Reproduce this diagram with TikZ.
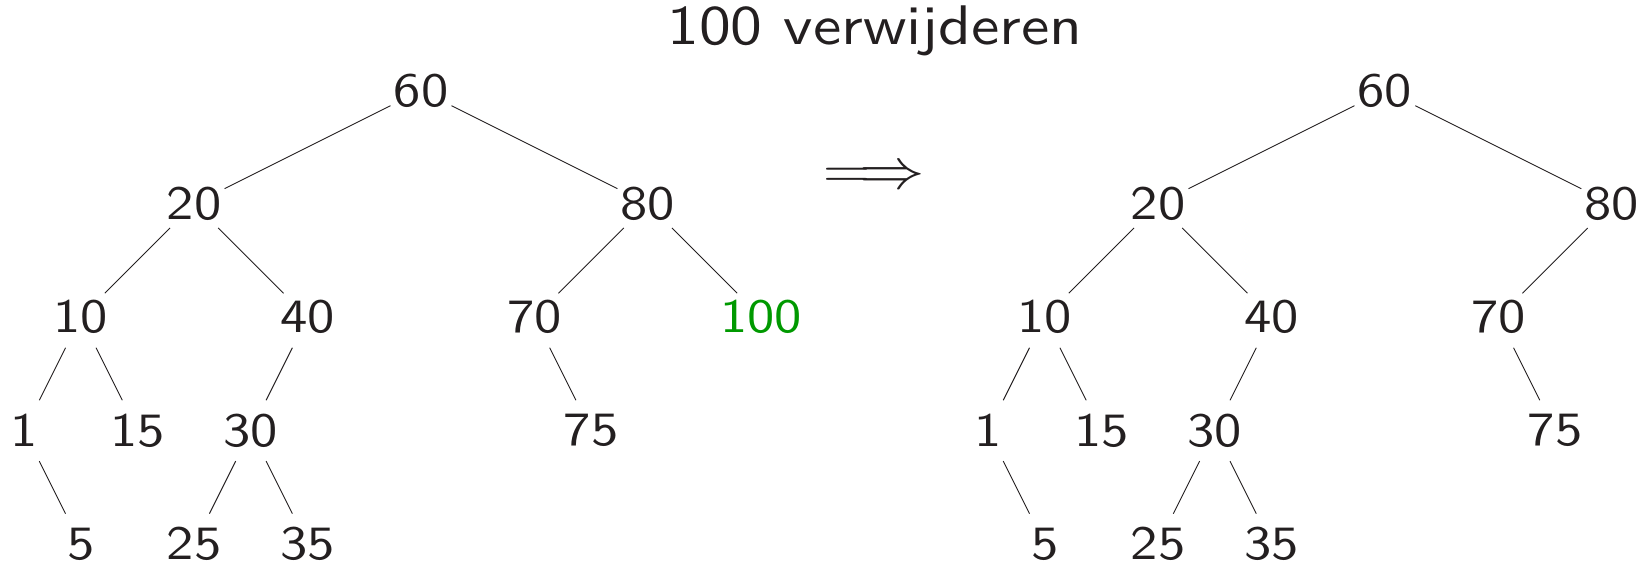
\documentclass[tikz,border=0pt]{standalone}
\usepackage{fontspec}
\usepackage{amsmath}
\usepackage{amsfonts}
\usepackage{graphicx}
\newfontfamily\treefont{lmsans10-regular.otf}[FakeStretch=1.14]
\definecolor{inkgray}{RGB}{35,31,32}
\definecolor{delgreen}{RGB}{0,153,0}
\tikzset{
  key/.style={text=inkgray,font=\treefont\fontsize{24}{28}\selectfont,inner sep=0pt},
  link/.style={draw=inkgray,line width=0.45pt,shorten <=0.6cm,shorten >=0.6cm}
}

\begin{document}
\begin{tikzpicture}
    \useasboundingbox (-7.425,1.596) rectangle (21.675,-8.351);
    % before
    \node[key] (a60) at (0,0) {60};
    \node[key] (a20) at (-4,-2) {20};
    \node[key] (a80) at (4,-2) {80};
    \node[key] (a10) at (-6,-4) {10};
    \node[key] (a40) at (-2,-4) {40};
    \node[key] (a70) at (2,-4) {70};
    \node[key,text=delgreen] (a100) at (6,-4) {100};
    \node[key] (a1) at (-7,-6) {1};
    \node[key] (a15) at (-5,-6) {15};
    \node[key] (a30) at (-3,-6) {30};
    \node[key] (a75) at (3,-6) {75};
    \node[key] (a5) at (-6,-8) {5};
    \node[key] (a25) at (-4,-8) {25};
    \node[key] (a35) at (-2,-8) {35};
    \foreach \p/\c in {60/20,60/80,20/10,20/40,80/70,80/100,10/1,10/15,40/30,70/75,1/5,30/25,30/35}
      \draw[link] (a\p.center) -- (a\c.center);
    % after
    \node[key] (b60) at (17,0) {60};
    \node[key] (b20) at (13,-2) {20};
    \node[key] (b80) at (21,-2) {80};
    \node[key] (b10) at (11,-4) {10};
    \node[key] (b40) at (15,-4) {40};
    \node[key] (b70) at (19,-4) {70};
    \node[key] (b1) at (10,-6) {1};
    \node[key] (b15) at (12,-6) {15};
    \node[key] (b30) at (14,-6) {30};
    \node[key] (b75) at (20,-6) {75};
    \node[key] (b5) at (11,-8) {5};
    \node[key] (b25) at (13,-8) {25};
    \node[key] (b35) at (15,-8) {35};
    \foreach \p/\c in {60/20,60/80,20/10,20/40,80/70,10/1,10/15,40/30,70/75,1/5,30/25,30/35}
      \draw[link] (b\p.center) -- (b\c.center);
    % title and arrow
    \node[key,font=\treefont\fontsize{28}{34}\selectfont] (title) at (8.007,1.05) {100 verwijderen};
    \node[key,font=\fontsize{24}{28}\selectfont] (arrow) at (8.0,-1.54) {\scalebox{1.32}[1.15]{$\Longrightarrow$}};
\end{tikzpicture}
\end{document}
